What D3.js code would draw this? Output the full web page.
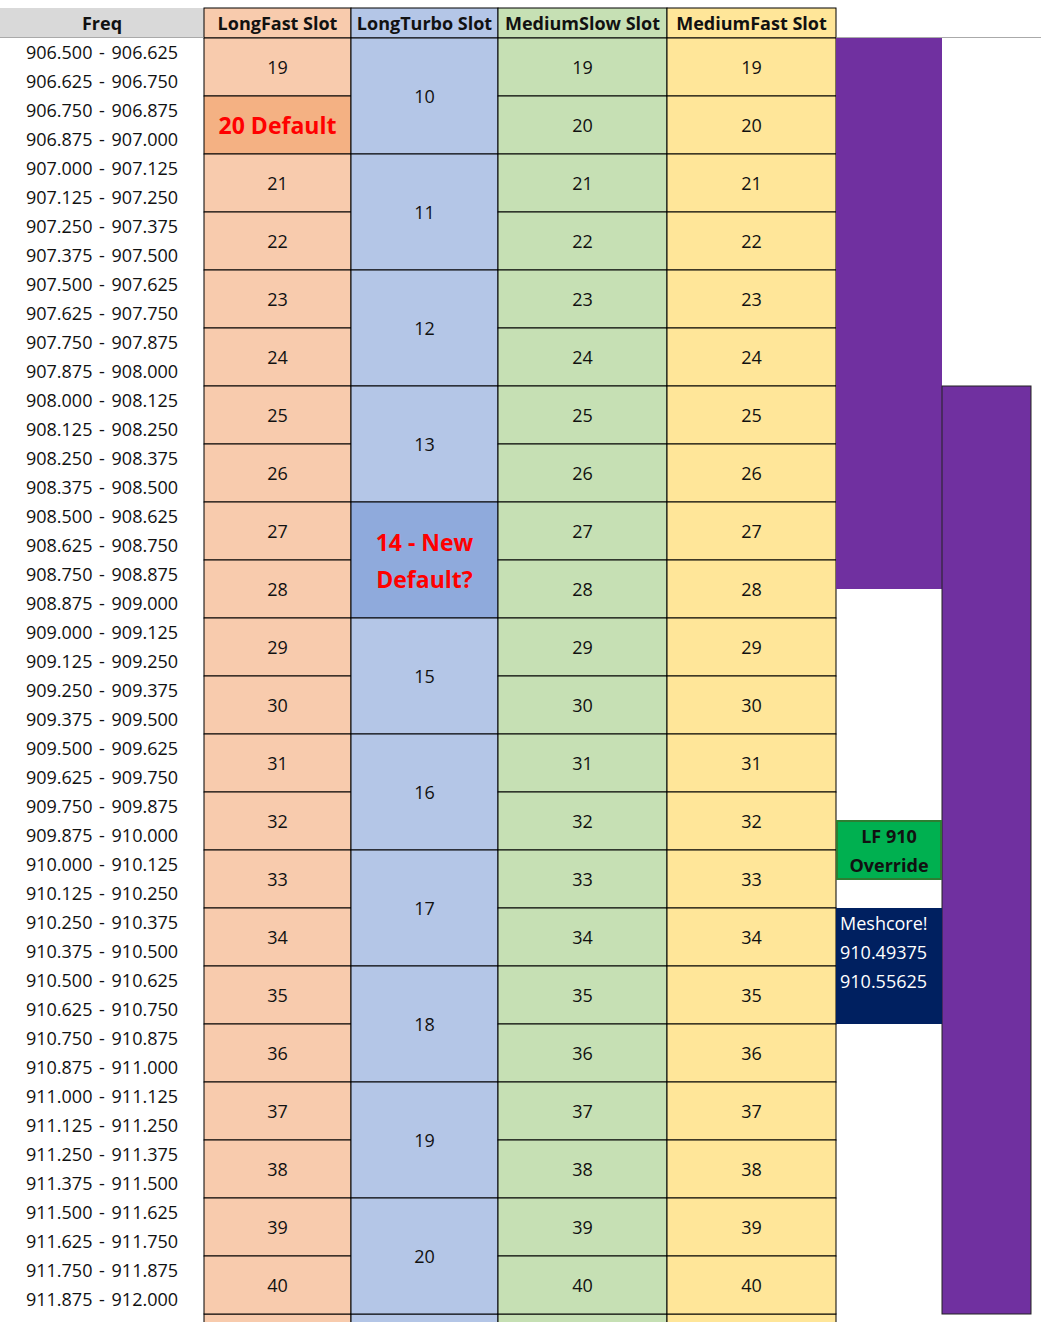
<!DOCTYPE html>
<html><head><meta charset="utf-8">
<script src="https://cdn.jsdelivr.net/npm/d3@7.9.0/dist/d3.min.js"></script>
<style>body{margin:0;background:#fff}text{font-family:"Open Sans",sans-serif}</style>
</head><body><svg id="c" width="1041" height="1322"></svg>
<script>
const columns = ['Freq', 'LongFast Slot', 'LongTurbo Slot', 'MediumSlow Slot', 'MediumFast Slot'];
const freqStarts = d3.range(44).map(i => 906.5 + i * 0.125);
const longFastSlots = d3.range(19, 41);
const longTurboSlots = d3.range(10, 21);
const mediumSlowSlots = d3.range(19, 41);
const mediumFastSlots = d3.range(19, 41);
const longFastDefault = 20;
const longTurboDefault = 14;
const notes = [
  {text: ['LF 910', 'Override'], from: 27, to: 29, band: 0},
  {text: ['Meshcore!', '910.49375', '910.55625'], from: 30, to: 34, band: 0},
];
const filters = [
  {text: 'AirFrames LongFast Cavity Filter (906 +/- 2)', from: 0, to: 19, band: 0},
  {text: 'RETUNE AirFrames LongFast Cavity Filter (centered at 910 +/- 2)', from: 12, to: 44, band: 1},
];

const colEdges = [0, 204, 351, 498, 667, 836];
const sideEdges = [836, 942, 1031];
const y = d3.scaleLinear().domain([0, 1]).range([38, 67]);
const svg = d3.select('#c');
const fills = ['#fff', '#F8CBAD', '#B4C6E7', '#C6E0B4', '#FFE699'];

// header
columns.forEach((c, i) => {
  const x0 = colEdges[i], x1 = colEdges[i + 1];
  svg.append('rect').attr('x', x0).attr('y', 8).attr('width', x1 - x0).attr('height', 30)
    .attr('fill', i === 0 ? '#D9D9D9' : fills[i]).attr('stroke', i === 0 ? 'none' : '#000').attr('stroke-width', 1);
  svg.append('text').attr('x', (x0 + x1) / 2).attr('y', 30).attr('text-anchor', 'middle')
    .attr('font-size', 18).attr('font-weight', 700).attr('fill', '#111').text(c);
});
svg.append('line').attr('x1', 0).attr('x2', 204).attr('y1', 37.5).attr('y2', 37.5).attr('stroke', '#aaa');
svg.append('line').attr('x1', 836).attr('x2', 1041).attr('y1', 37.5).attr('y2', 37.5).attr('stroke', '#aaa');

// freq column
svg.selectAll('.fq').data(freqStarts).join('text')
  .attr('x', 102).attr('y', (d, i) => y(i + 0.5) + 6.5).attr('text-anchor', 'middle')
  .attr('font-size', 18).attr('fill', '#111').attr('word-spacing', 2)
  .text(d => `${d.toFixed(3)} - ${(d + 0.125).toFixed(3)}`);

function slotCol(ci, slots, span, highlight, hiFill) {
  const x0 = colEdges[ci], x1 = colEdges[ci + 1];
  const g = svg.append('g');
  // partial trailing cell
  g.append('rect').attr('x', x0).attr('y', y(44)).attr('width', x1 - x0).attr('height', 20)
    .attr('fill', fills[ci]).attr('stroke', '#000');
  slots.forEach((s, k) => {
    const hi = s === highlight;
    g.append('rect').attr('x', x0).attr('y', y(k * span)).attr('width', x1 - x0)
      .attr('height', y(span) - y(0)).attr('fill', hi ? hiFill : fills[ci]).attr('stroke', '#000');
    const cy = y(k * span + span / 2);
    if (!hi) {
      g.append('text').attr('x', (x0 + x1) / 2).attr('y', cy + 6.5).attr('text-anchor', 'middle')
        .attr('font-size', 18).attr('fill', '#111').text(s);
    } else {
      const lines = ci === 1 ? [s + ' Default'] : [s + ' - New', 'Default?'];
      lines.forEach((t, j) => g.append('text').attr('x', (x0 + x1) / 2)
        .attr('y', cy + 9 + (j - (lines.length - 1) / 2) * 37).attr('text-anchor', 'middle')
        .attr('font-size', 23).attr('font-weight', 700).attr('fill', '#FF0000').text(t));
    }
  });
}
slotCol(1, longFastSlots, 2, longFastDefault, '#F4B183');
slotCol(2, longTurboSlots, 4, longTurboDefault, '#8FAADC');
slotCol(3, mediumSlowSlots, 2, null);
slotCol(4, mediumFastSlots, 2, null);

// filter bands
filters.forEach((f, i) => {
  const x0 = sideEdges[f.band], x1 = sideEdges[f.band + 1];
  const clip = 'clip' + i;
  svg.append('clipPath').attr('id', clip).append('rect')
    .attr('x', x0).attr('y', y(f.from)).attr('width', x1 - x0).attr('height', y(f.to) - y(f.from));
  svg.append('rect').attr('x', x0).attr('y', y(f.from)).attr('width', x1 - x0)
    .attr('height', y(f.to) - y(f.from)).attr('fill', '#7030A0').attr('stroke', i ? '#222' : 'none');
  const cx = (x0 + x1) / 2;
  const ty = i === 0 ? 356 : (y(f.from) + y(f.to)) / 2;
  svg.append('text').attr('clip-path', `url(#${clip})`)
    .attr('transform', `translate(${cx + 7},${ty}) rotate(-90)`)
    .attr('text-anchor', i === 0 ? 'start' : 'middle').attr('font-size', 18)
    .attr('fill', i === 0 ? '#fff' : '#00B050').text(f.text);
});

// notes
notes.forEach((n, i) => {
  const x0 = sideEdges[0], x1 = sideEdges[1];
  svg.append('rect').attr('x', x0 + (i ? 0 : 1)).attr('y', y(n.from)).attr('width', x1 - x0 - (i ? 0 : 2))
    .attr('height', y(n.to) - y(n.from)).attr('fill', i ? '#002060' : '#00B050')
    .attr('stroke', i ? 'none' : '#2E7D32').attr('stroke-width', 2);
  n.text.forEach((t, j) => svg.append('text')
    .attr('x', i ? x0 + 4 : (x0 + x1) / 2).attr('y', y(n.from + j) + 22)
    .attr('text-anchor', i ? 'start' : 'middle').attr('font-size', 18)
    .attr('font-weight', i ? 400 : 700).attr('fill', i ? '#fff' : '#111').text(t));
});
</script></body></html>
